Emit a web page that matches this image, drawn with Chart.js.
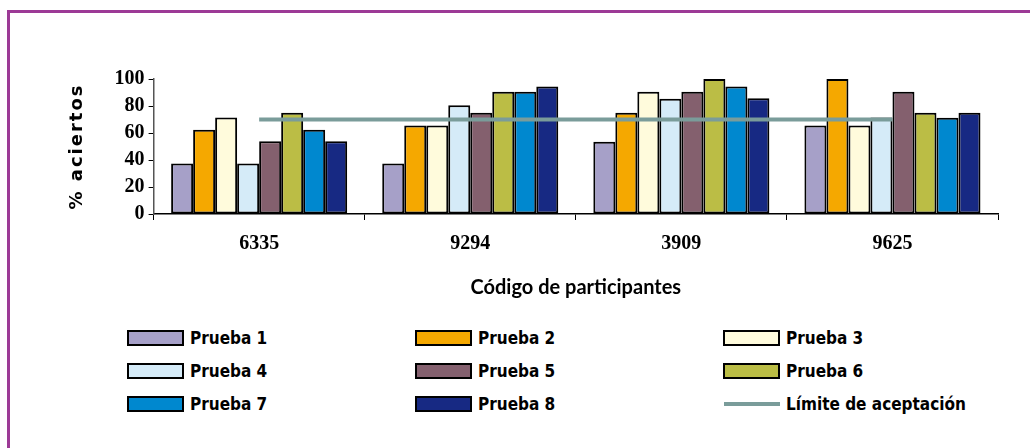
<!DOCTYPE html>
<html lang="es">
<head>
<meta charset="UTF-8">
<title>Código de participantes</title>
<script src="https://cdn.jsdelivr.net/npm/chart.js"></script>
<style>
  body { margin: 0; background: #fff; }
  .marco { position: absolute; left: 7px; top: 10px; width: 1023px; height: 438px;
           border-top: 3px solid #9c3a96; border-left: 3px solid #9c3a96; box-sizing: border-box; }
  .caja_grafico { position: absolute; left: 0; top: 0; width: 1030px; height: 300px; }
  .leyenda { position: absolute; left: 127px; top: 329px; width: 880px;
             display: grid; grid-template-columns: 288px 308px 280px; row-gap: 15px;
             font-family: "DejaVu Sans Condensed", sans-serif; font-weight: bold; font-size: 17px; }
  .item { display: flex; align-items: center; height: 18px; }
  .cuadro { width: 53px; height: 12px; border: 2px solid #000; margin-right: 6px; }
  .raya { width: 56px; height: 4px; margin: 0 6px 0 1px; }
</style>
</head>
<body>
<div class="marco"></div>
<div class="caja_grafico"><canvas id="grafico" width="1030" height="300"></canvas></div>
<div class="leyenda" id="leyenda"></div>
<script>
var participantes = ['6335', '9294', '3909', '9625'];
var nombres = ['Prueba 1', 'Prueba 2', 'Prueba 3', 'Prueba 4', 'Prueba 5', 'Prueba 6', 'Prueba 7', 'Prueba 8'];
var prueba1 = [37.5, 37.5, 53.5, 65.6];
var prueba2 = [62.5, 65.6, 75, 100];
var prueba3 = [71.4, 65.6, 90.6, 65.6];
var prueba4 = [37.5, 80.5, 85.3, 71.5];
var prueba5 = [53.8, 75, 90.6, 90.6];
var prueba6 = [75, 90.6, 100, 75];
var prueba7 = [62.5, 90.6, 94.5, 71.3];
var prueba8 = [53.8, 94.5, 85.7, 75];
var limite = [70, 70, 70, 70];
var etiquetaLimite = 'Límite de aceptación';

var colores = ['#a6a0c8', '#f5a800', '#fffbdc', '#d5ebf8', '#84606e', '#bbbd45', '#0088cf', '#172983'];
var colorLimite = '#7a9c9a';
var series = [prueba1, prueba2, prueba3, prueba4, prueba5, prueba6, prueba7, prueba8];

var datasets = series.map(function (valores, i) {
  return {
    type: 'bar',
    label: nombres[i],
    data: valores,
    backgroundColor: colores[i],
    borderColor: '#000',
    borderWidth: 2,
    borderSkipped: false,
    categoryPercentage: 0.834,
    barPercentage: 1,
    order: 1
  };
});
datasets.push({
  type: 'line',
  label: etiquetaLimite,
  data: limite,
  borderColor: colorLimite,
  borderWidth: 4,
  pointRadius: 0,
  fill: false,
  order: 0
});

var serif = '"Liberation Serif", "Times New Roman", serif';

// espaciado de letras para el titulo del eje y
var espaciadoTitulo = {
  id: 'espaciadoTitulo',
  afterUpdate: function (chart) {
    var ejeY = chart.scales.y;
    if (ejeY && !ejeY._espaciado) {
      var original = ejeY.drawTitle.bind(ejeY);
      ejeY.drawTitle = function () {
        chart.ctx.save();
        chart.ctx.letterSpacing = '2px';
        original();
        chart.ctx.restore();
      };
      ejeY._espaciado = true;
    }
  }
};

new Chart(document.getElementById('grafico'), {
  type: 'bar',
  data: { labels: participantes, datasets: datasets },
  plugins: [espaciadoTitulo],
  options: {
    responsive: false,
    animation: false,
    layout: { padding: { left: 67, right: 32, top: 79, bottom: 0 } },
    plugins: { legend: { display: false }, tooltip: { enabled: false } },
    scales: {
      x: {
        grid: { display: true, offset: true, drawOnChartArea: false, drawTicks: true, tickLength: 6, color: '#000' },
        border: { display: true, color: '#000', width: 1.5 },
        ticks: { color: '#000', padding: 12, font: { family: serif, size: 20, weight: 'bold' } },
        title: { display: true, text: 'Código de participantes', color: '#000', padding: { top: 8, bottom: 0 },
                 font: { family: 'Lato, "Open Sans", sans-serif', size: 20, weight: 'bold' } }
      },
      y: {
        min: 0, max: 100,
        grid: { display: true, drawOnChartArea: false, drawTicks: true, tickLength: 5, color: '#000' },
        border: { display: true, color: '#555', width: 1.5 },
        ticks: { stepSize: 20, autoSkip: false, color: '#000', padding: 4, font: { family: serif, size: 20, weight: 'bold' } },
        title: { display: true, text: '% aciertos', color: '#000', padding: { top: 0, bottom: 22 },
                 font: { family: '"DejaVu Sans", sans-serif', size: 18, weight: 'bold' } }
      }
    }
  }
});

// leyenda en tres columnas
var leyenda = document.getElementById('leyenda');
datasets.forEach(function (ds) {
  var item = document.createElement('div');
  item.className = 'item';
  var marca = document.createElement('span');
  if (ds.type === 'line') {
    marca.className = 'raya';
    marca.style.background = ds.borderColor;
  } else {
    marca.className = 'cuadro';
    marca.style.background = ds.backgroundColor;
  }
  item.appendChild(marca);
  item.appendChild(document.createTextNode(ds.label));
  leyenda.appendChild(item);
});
</script>
</body>
</html>
